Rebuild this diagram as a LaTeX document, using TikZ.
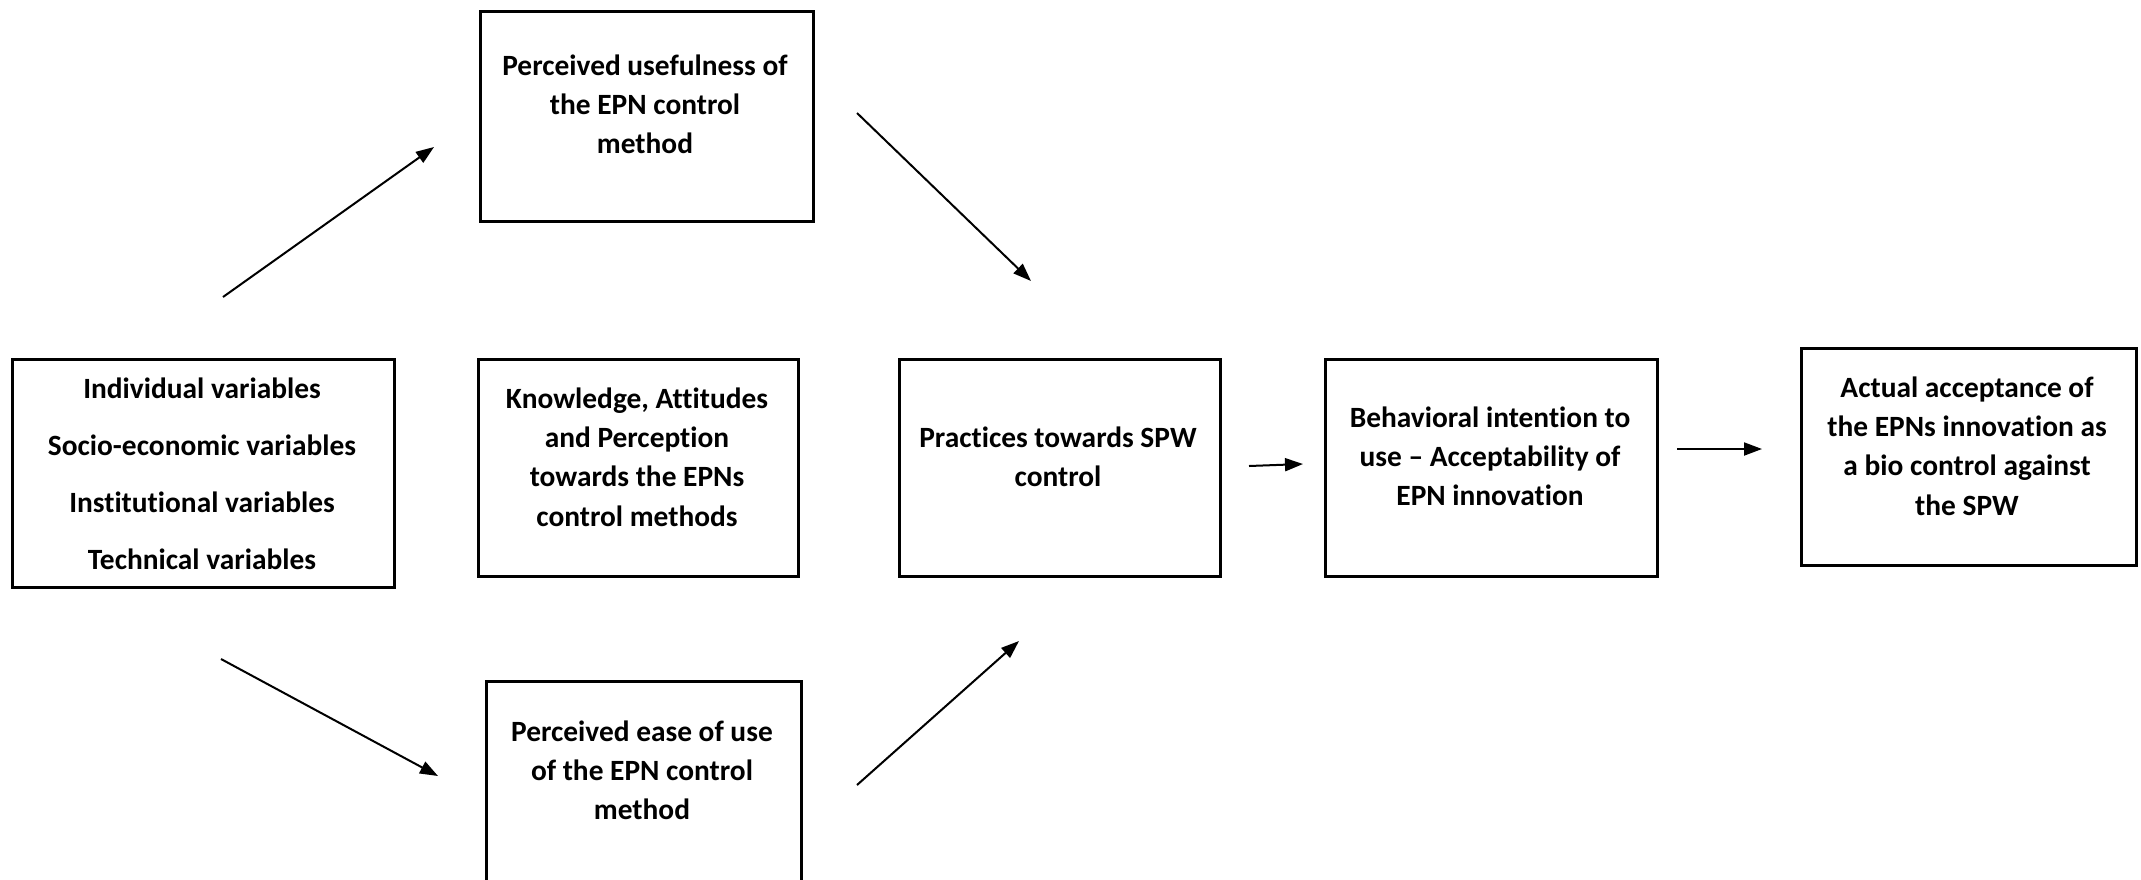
\documentclass[tikz,border=0pt]{standalone}
\usepackage{fontspec}
\setmainfont{Carlito}[Ligatures={NoCommon}]
\usetikzlibrary{arrows.meta}
\begin{document}
\begin{tikzpicture}[x=0.5pt,y=-0.5pt,
  box/.style={draw,line width=1.4pt,rectangle,inner sep=0pt,anchor=north west},
  lbl/.style={align=center,inner sep=0pt,font=\fontsize{14.7}{19.6}\selectfont\bfseries},
  lblwide/.style={align=center,inner sep=0pt,font=\fontsize{14.7}{28.5}\selectfont\bfseries},
  arr/.style={line width=1pt,-{Triangle[length=9pt,width=6.5pt]}}]
\useasboundingbox (0,0) rectangle (2141,879);
\clip (0,0) rectangle (2141,879);
% boxes
\node[box,minimum width=333*0.5pt,minimum height=210*0.5pt] (pu) at (479,10) {};
\node[box,minimum width=382*0.5pt,minimum height=228*0.5pt] (ind) at (11,358) {};
\node[box,minimum width=320*0.5pt,minimum height=217*0.5pt] (kap) at (477,358) {};
\node[box,minimum width=321*0.5pt,minimum height=217*0.5pt] (prac) at (898,358) {};
\node[box,minimum width=332*0.5pt,minimum height=217*0.5pt] (beh) at (1324,358) {};
\node[box,minimum width=335*0.5pt,minimum height=217*0.5pt] (act) at (1800,347) {};
\node[box,minimum width=315*0.5pt,minimum height=240*0.5pt] (peou) at (485,680) {};
% labels
\node[lbl] (tpu) at (645,104) {Perceived usefulness of\\the EPN control\\method};
\node[lblwide] (tind) at (202,474) {Individual variables\\Socio-economic variables\\Institutional variables\\Technical variables};
\node[lbl] (tkap) at (637,457) {Knowledge, Attitudes\\and Perception\\towards the EPNs\\control methods};
\node[lbl] (tprac) at (1058,457) {Practices towards SPW\\control};
\node[lbl] (tbeh) at (1490,456) {Behavioral intention to\\use -- Acceptability of\\EPN innovation};
\node[lbl] (tact) at (1967,446) {Actual acceptance of\\the EPNs innovation as\\a bio control against\\the SPW};
\node[lbl] (tpeou) at (642,770) {Perceived ease of use\\of the EPN control\\method};
% arrow endpoints
\coordinate (a1s) at (223,297);
\coordinate (a1e) at (434,147);
\coordinate (a2s) at (857,113);
\coordinate (a2e) at (1031,281);
\coordinate (a3s) at (221,659);
\coordinate (a3e) at (438,776);
\coordinate (a4s) at (857,785);
\coordinate (a4e) at (1019,641);
\coordinate (a5s) at (1249,466);
\coordinate (a5e) at (1303,464);
\coordinate (a6s) at (1677,449);
\coordinate (a6e) at (1762,449);
\draw[arr] (a1s) -- (a1e);
\draw[arr] (a2s) -- (a2e);
\draw[arr] (a3s) -- (a3e);
\draw[arr] (a4s) -- (a4e);
\draw[arr] (a5s) -- (a5e);
\draw[arr] (a6s) -- (a6e);
\end{tikzpicture}
\end{document}
